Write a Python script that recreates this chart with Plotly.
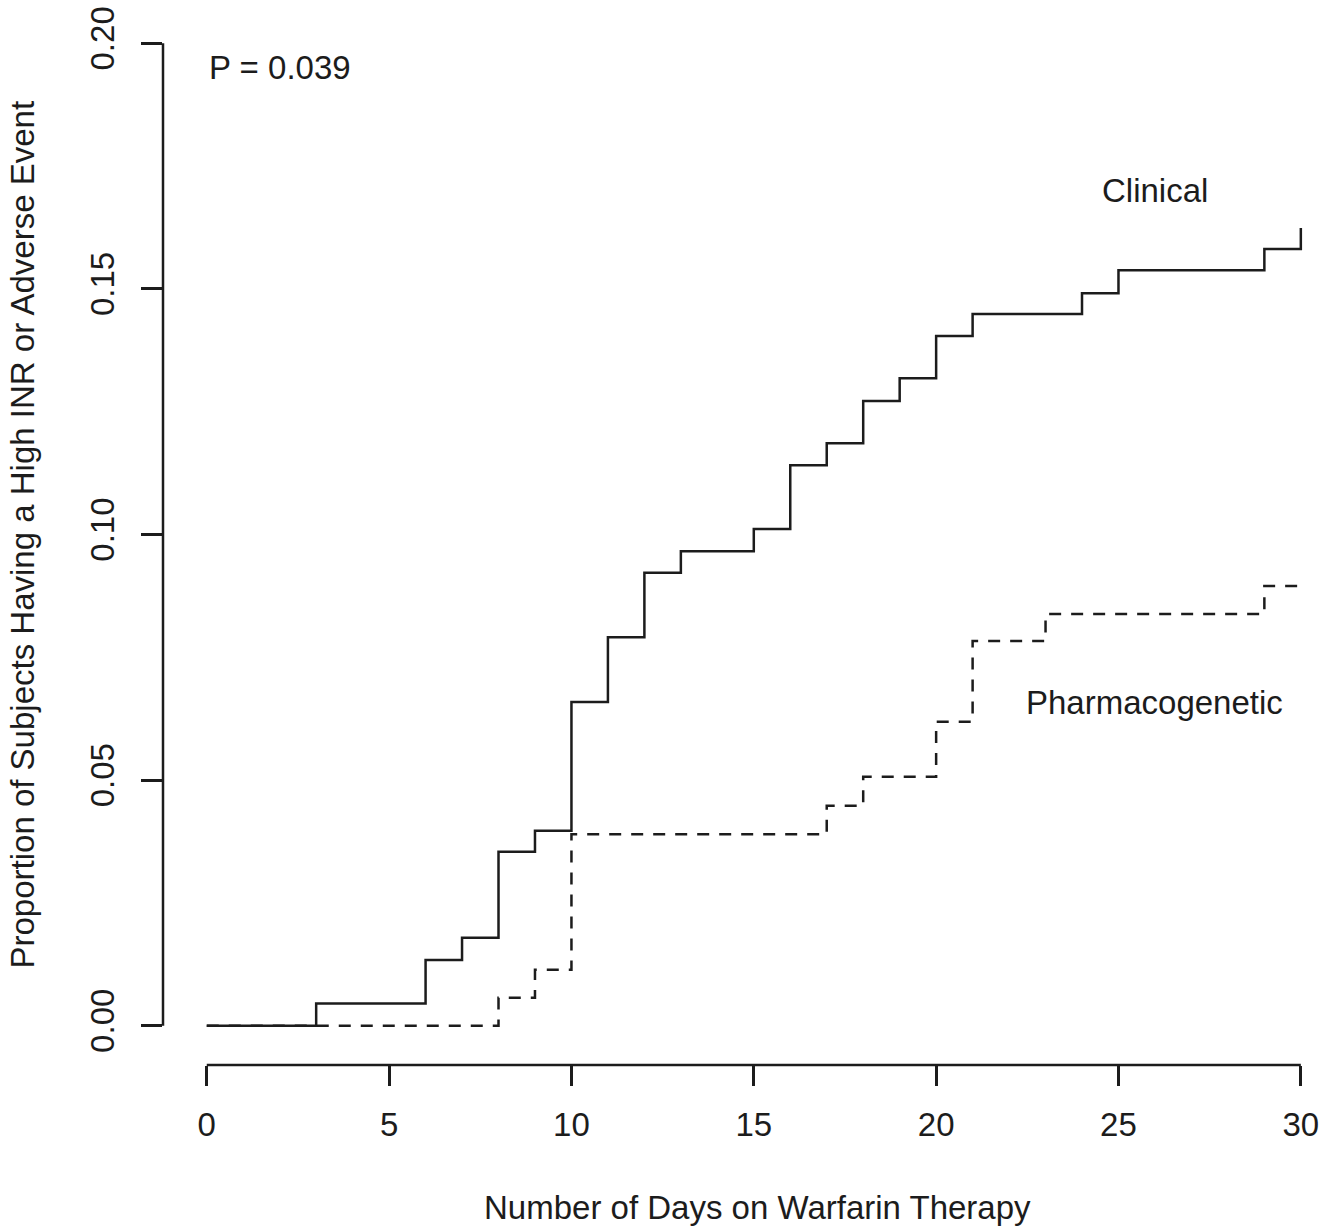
import plotly.graph_objects as go

# Data
clin_days = [0, 3, 6, 7, 8, 9, 10, 11, 12, 13, 15, 16, 17, 18, 19, 20, 21, 24, 25, 29, 30]
clin_prop = [0, 0.0045, 0.0134, 0.0179, 0.0354, 0.0397, 0.0659, 0.0791, 0.0922, 0.0966,
             0.1011, 0.1141, 0.1186, 0.1272, 0.1318, 0.1404, 0.1449, 0.1491, 0.1538, 0.1581, 0.1624]
pg_days = [0, 8, 9, 10, 17, 18, 20, 21, 23, 29, 30]
pg_prop = [0, 0.0057, 0.0114, 0.0390, 0.0448, 0.0507, 0.0619, 0.0783, 0.0838, 0.0895, 0.0895]

x_ticks = [0, 5, 10, 15, 20, 25, 30]
y_ticks = [0, 0.05, 0.10, 0.15, 0.20]
y_labels = ["0.00", "0.05", "0.10", "0.15", "0.20"]

FONT = "Liberation Sans, Arial, sans-serif"
FS = 33
INK = "#1c1c1c"

fig = go.Figure()
fig.add_trace(go.Scatter(x=pg_days, y=pg_prop, mode="lines", line_shape="hv",
                         line=dict(color=INK, width=2.5, dash="12px,10px"),
                         name="Pharmacogenetic", showlegend=False))
fig.add_trace(go.Scatter(x=clin_days, y=clin_prop, mode="lines", line_shape="hv",
                         line=dict(color=INK, width=2.5),
                         name="Clinical", showlegend=False))

# R-style detached axis lines spanning the tick range
fig.add_shape(type="line", xref="x", yref="paper", x0=min(x_ticks), x1=max(x_ticks), y0=0, y1=0,
              line=dict(color=INK, width=2.5))
fig.add_shape(type="line", xref="paper", yref="y", x0=0, x1=0, y0=min(y_ticks), y1=max(y_ticks),
              line=dict(color=INK, width=2.5))

fig.add_annotation(x=0, y=0.195, text="P = 0.039", showarrow=False, xanchor="left",
                   yanchor="middle", font=dict(family=FONT, size=FS, color=INK))
fig.add_annotation(x=26, y=0.170, text="Clinical", showarrow=False, xanchor="center",
                   yanchor="middle", font=dict(family=FONT, size=FS, color=INK))
fig.add_annotation(x=26, y=0.0657, text="Pharmacogenetic", showarrow=False, xanchor="center",
                   yanchor="middle", font=dict(family=FONT, size=FS, color=INK))

# axis titles
fig.add_annotation(xref="paper", yref="paper", x=(757 - 163) / 1167, y=-(1207 - 1065) / 1061,
                   text="Number of Days on Warfarin Therapy", showarrow=False,
                   xanchor="center", yanchor="middle", font=dict(family=FONT, size=FS, color=INK))
fig.add_annotation(xref="paper", yref="paper", x=(22 - 163) / 1167, y=0.5,
                   text="Proportion of Subjects Having a High INR or Adverse Event", showarrow=False,
                   textangle=-90, xanchor="center", yanchor="middle",
                   font=dict(family=FONT, size=FS, color=INK))

fig.update_layout(
    width=1338, height=1228,
    margin=dict(l=163, r=8, t=4, b=163),
    paper_bgcolor="white", plot_bgcolor="white",
    font=dict(family=FONT, size=FS, color=INK),
    showlegend=False,
)
fig.update_xaxes(range=[-1.2, 30.8], tickvals=x_ticks, ticktext=[str(v) for v in x_ticks],
                 ticks="outside", ticklen=20, tickwidth=2.5, tickcolor=INK,
                 showgrid=False, zeroline=False, showline=False,
                 tickfont=dict(family=FONT, size=FS, color=INK), ticklabelstandoff=10)
fig.update_yaxes(range=[-0.008, 0.208], tickvals=y_ticks, ticktext=y_labels,
                 ticks="outside", ticklen=21, tickwidth=2.5, tickcolor=INK,
                 showgrid=False, zeroline=False, showline=False, tickangle=-90,
                 tickfont=dict(family=FONT, size=FS, color=INK), ticklabelstandoff=14)

fig.write_html("out.html")
